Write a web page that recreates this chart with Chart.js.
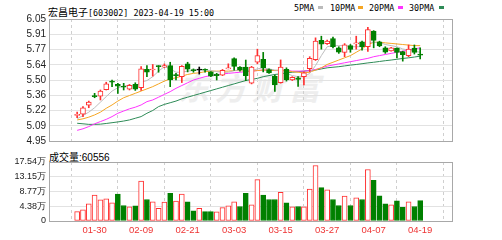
<!DOCTYPE html>
<html>
<head>
<meta charset="utf-8">
<script src="https://cdn.jsdelivr.net/npm/chart.js@4.4.0/dist/chart.umd.min.js"></script>
<style>
  body { margin: 0; background: #fff; width: 502px; height: 240px; overflow: hidden; position: relative; }
  .t { position: absolute; white-space: nowrap; color: #000; line-height: 1; }
  .mono { font-family: "DejaVu Sans Mono", "Liberation Mono", monospace; font-size: 8.4px; }
  .cjk { font-family: "Noto Sans CJK SC", sans-serif; font-size: 10px; }
  .dash { position: absolute; width: 5px; height: 3px; top: 6px; }
  canvas { position: absolute; left: 0; }
  #wm { position: absolute; left: 178px; top: 64px; font: italic bold 31px "Noto Sans CJK SC", sans-serif;
        color: #eeeeee; letter-spacing: 6px; }
</style>
</head>
<body>
<div id="wm">东方财富</div>
<div class="t" style="left:48px;top:3px;"><span class="cjk">宏昌电子</span><span class="mono">[603002] 2023-04-19 15:00</span></div>
<div class="t mono" style="left:294px;top:4px;">5PMA</div><div class="dash" style="left:318px;background:#bbbbbb;"></div>
<div class="t mono" style="left:330px;top:4px;">10PMA</div><div class="dash" style="left:358px;background:#f5a623;"></div>
<div class="t mono" style="left:369px;top:4px;">20PMA</div><div class="dash" style="left:398px;background:#ff33ff;"></div>
<div class="t mono" style="left:409px;top:4px;">30PMA</div><div class="dash" style="left:439px;background:#2e8b57;"></div>
<div class="t" style="left:49px;top:148px;"><span class="cjk">成交量</span><span style="font:10px 'Liberation Sans',Arial,sans-serif;">:60556</span></div>
<canvas id="k" width="502" height="150" style="top:0"></canvas>
<canvas id="v" width="502" height="90" style="top:150px"></canvas>
<script>
// trading days shown
const dates = ['01-18','01-19','01-20','01-30','01-31','02-01','02-02','02-03','02-06','02-07',
  '02-08','02-09','02-10','02-13','02-14','02-15','02-16','02-17','02-20','02-21',
  '02-22','02-23','02-24','02-27','02-28','03-01','03-02','03-03','03-06','03-07',
  '03-08','03-09','03-10','03-13','03-14','03-15','03-16','03-17','03-20','03-21',
  '03-22','03-23','03-24','03-27','03-28','03-29','03-30','03-31','04-03','04-04',
  '04-06','04-07','04-10','04-11','04-12','04-13','04-14','04-17','04-18','04-19'];

const opens = [5.18,5.193,5.272,5.36,5.354,5.412,5.49,5.46,5.44,5.418,
  5.46,5.43,5.596,5.59,5.625,5.617,5.63,5.545,5.53,5.646,
  5.59,5.59,5.592,5.573,5.553,5.544,5.60,5.693,5.617,5.617,
  5.471,5.661,5.687,5.594,5.535,5.477,5.597,5.50,5.52,5.529,
  5.602,5.684,5.857,5.828,5.874,5.79,5.749,5.81,5.825,5.845,
  5.80,5.94,5.845,5.79,5.763,5.787,5.757,5.72,5.787,5.73];
const closes = [5.19,5.25,5.30,5.35,5.40,5.465,5.48,5.445,5.435,5.453,
  5.418,5.60,5.57,5.597,5.62,5.63,5.50,5.54,5.623,5.597,
  5.585,5.59,5.588,5.535,5.538,5.588,5.605,5.623,5.59,5.538,
  5.617,5.72,5.611,5.564,5.456,5.617,5.50,5.523,5.506,5.564,
  5.696,5.851,5.822,5.85,5.80,5.75,5.816,5.775,5.83,5.80,
  5.955,5.857,5.807,5.75,5.79,5.749,5.728,5.778,5.749,5.725];
const highs = [5.21,5.26,5.31,5.38,5.41,5.48,5.50,5.47,5.47,5.46,
  5.475,5.62,5.63,5.64,5.63,5.645,5.66,5.56,5.63,5.66,
  5.60,5.617,5.60,5.575,5.56,5.595,5.646,5.70,5.62,5.68,
  5.623,5.778,5.749,5.60,5.544,5.681,5.61,5.53,5.53,5.573,
  5.71,5.88,5.895,5.86,5.886,5.80,5.828,5.82,5.895,5.85,
  5.974,5.945,5.85,5.80,5.795,5.79,5.76,5.816,5.816,5.79];
const lows = [5.16,5.17,5.25,5.34,5.32,5.41,5.44,5.38,5.41,5.41,
  5.406,5.406,5.53,5.535,5.57,5.61,5.44,5.50,5.477,5.573,
  5.57,5.553,5.57,5.53,5.50,5.54,5.60,5.588,5.58,5.494,
  5.465,5.646,5.573,5.56,5.398,5.471,5.49,5.495,5.441,5.456,
  5.573,5.676,5.778,5.82,5.79,5.74,5.71,5.75,5.778,5.77,
  5.757,5.79,5.80,5.74,5.76,5.70,5.67,5.71,5.734,5.69];

const ma5 = [5.15,5.18,5.21,5.25,5.30,5.35,5.40,5.43,5.445,5.455,
  5.44,5.48,5.495,5.53,5.58,5.62,5.60,5.57,5.57,5.58,
  5.585,5.59,5.59,5.585,5.575,5.57,5.57,5.585,5.59,5.59,
  5.585,5.60,5.61,5.60,5.59,5.585,5.56,5.54,5.53,5.53,
  5.56,5.63,5.72,5.80,5.81,5.81,5.81,5.80,5.80,5.80,
  5.84,5.84,5.84,5.82,5.81,5.80,5.78,5.77,5.76,5.75];
const ma10 = [5.14,5.15,5.165,5.185,5.21,5.245,5.275,5.31,5.34,5.36,
  5.38,5.40,5.42,5.44,5.465,5.49,5.51,5.52,5.535,5.55,
  5.56,5.565,5.575,5.58,5.58,5.58,5.58,5.585,5.585,5.58,
  5.58,5.585,5.59,5.59,5.585,5.59,5.585,5.575,5.57,5.565,
  5.57,5.59,5.61,5.64,5.66,5.68,5.70,5.72,5.75,5.78,
  5.82,5.84,5.84,5.835,5.83,5.825,5.82,5.815,5.81,5.81];
const ma20 = [5.046,5.06,5.08,5.105,5.125,5.145,5.17,5.20,5.22,5.24,
  5.255,5.275,5.305,5.32,5.345,5.37,5.395,5.425,5.45,5.475,
  5.50,5.515,5.53,5.54,5.548,5.555,5.56,5.565,5.57,5.575,
  5.58,5.585,5.59,5.59,5.585,5.585,5.585,5.58,5.58,5.58,
  5.585,5.595,5.61,5.625,5.635,5.645,5.655,5.665,5.675,5.685,
  5.695,5.71,5.72,5.73,5.74,5.75,5.76,5.77,5.78,5.79];
const ma30 = [5.11,5.105,5.10,5.10,5.102,5.108,5.115,5.122,5.13,5.14,
  5.155,5.17,5.20,5.225,5.26,5.28,5.295,5.31,5.33,5.345,
  5.36,5.375,5.39,5.405,5.42,5.435,5.45,5.465,5.48,5.495,
  5.505,5.515,5.53,5.54,5.55,5.555,5.565,5.57,5.575,5.58,
  5.585,5.59,5.60,5.61,5.615,5.62,5.627,5.634,5.64,5.647,
  5.654,5.66,5.667,5.674,5.68,5.687,5.694,5.70,5.707,5.715];

const volumes = [28000,33000,51000,77000,63000,66000,54000,80000,46000,42000,
  45000,119000,64000,57000,38000,56000,82000,59000,80000,57000,
  30000,38000,28000,28000,27000,40000,45000,57000,43000,82000,
  48000,123000,77000,64000,64000,85000,54000,42000,43000,42000,
  95000,165000,99000,93000,64000,46000,74000,46000,69000,64000,
  153000,121000,75000,51000,48000,60000,41000,57000,43000,60556];

const priceRange = [4.95, 6.05];
const priceTickLabels = ['4.95','5.09','5.22','5.36','5.50','5.64','5.77','5.91','6.05'];
const volMax = 175400;
const volTickLabels = ['0','4.38万','8.77万','13.15万','17.54万'];
const xTickDates = ['01-30','02-09','02-21','03-03','03-15','03-27','04-07','04-19'];

const RED = '#ff3030', GREEN = '#008000';
const idx = dates.map((d, i) => i);
const candleColor = i => closes[i] > opens[i] ? RED : (closes[i] < opens[i] ? GREEN : '#000');
const volUp = i => closes[i] >= (i ? closes[i - 1] : opens[i]);

const frame = {
  id: 'frame',
  afterDraw(c) {
    const a = c.chartArea, ctx = c.ctx;
    ctx.save();
    ctx.strokeStyle = '#a8a8a8';
    ctx.lineWidth = 1;
    ctx.strokeRect(Math.round(a.left) + 0.5, Math.round(a.top) + 0.5,
      Math.round(a.right - a.left) - 1, Math.round(a.bottom - a.top));
    ctx.restore();
  }
};

function xScale(showLabels) {
  return {
    type: 'linear', min: -0.5, max: 60.3,
    afterBuildTicks: s => { s.ticks = xTickDates.map(d => ({ value: dates.indexOf(d) })); },
    afterFit: s => { s.height = showLabels ? 19 : 0; },
    grid: { color: '#cfcfcf', drawTicks: false },
    border: { display: false, dash: [3, 3] },
    ticks: {
      display: showLabels, autoSkip: false, maxRotation: 0, padding: 4,
      color: '#ee3333', font: { family: 'Liberation Sans, Arial', size: 9.5 },
      callback: v => dates[v]
    }
  };
}

function evenTicks(lo, hi, n) {
  return Array.from({ length: n }, (_, k) => ({ value: lo + k * (hi - lo) / (n - 1) }));
}

const lineDs = (data, color) => ({
  type: 'line', data: idx.map(i => ({ x: i, y: data[i] })), borderColor: color,
  borderWidth: 1, pointRadius: 0, tension: 0, order: 5
});

new Chart(document.getElementById('k'), {
  type: 'bar',
  data: {
    datasets: [
      lineDs(ma5, '#bdbdbd'),
      lineDs(ma10, '#f5a623'),
      lineDs(ma20, '#ff33ff'),
      lineDs(ma30, '#2e8b57'),
      {
        data: idx.map(i => ({ x: i, y: [lows[i], highs[i]] })),
        backgroundColor: idx.map(candleColor),
        barThickness: 1, grouped: false, order: 3, minBarLength: 1
      },
      {
        data: idx.map(i => ({ x: i, y: [opens[i], closes[i]] })),
        backgroundColor: idx.map(i => closes[i] > opens[i] ? '#fff' : candleColor(i)),
        borderColor: idx.map(candleColor), borderWidth: 1, borderSkipped: false,
        barThickness: 5, grouped: false, order: 1, minBarLength: 1
      }
    ]
  },
  options: {
    responsive: false, animation: false, devicePixelRatio: 1,
    layout: { padding: { top: 19, right: 49, bottom: 6, left: 0 } },
    plugins: { legend: { display: false }, tooltip: { enabled: false } },
    scales: {
      x: xScale(false),
      y: {
        min: priceRange[0], max: priceRange[1],
        afterBuildTicks: s => { s.ticks = evenTicks(priceRange[0], priceRange[1], priceTickLabels.length); },
        afterFit: s => { s.width = 49; },
        grid: { color: '#e2e2e2', drawTicks: false },
        border: { display: false },
        ticks: {
          padding: 3, color: '#222', font: { family: 'Liberation Sans, Arial', size: 10 },
          callback: (v, k) => priceTickLabels[k]
        }
      }
    }
  },
  plugins: [frame]
});

new Chart(document.getElementById('v'), {
  type: 'bar',
  data: {
    datasets: [{
      data: idx.map(i => ({ x: i, y: volumes[i] })),
      backgroundColor: idx.map(i => volUp(i) ? '#fff' : GREEN),
      borderColor: idx.map(i => volUp(i) ? RED : GREEN),
      borderWidth: 1, borderSkipped: false, barThickness: 5
    }]
  },
  options: {
    responsive: false, animation: false, devicePixelRatio: 1,
    layout: { padding: { top: 12, right: 49, bottom: 0, left: 0 } },
    plugins: { legend: { display: false }, tooltip: { enabled: false } },
    scales: {
      x: xScale(true),
      y: {
        min: 0, max: volMax,
        afterBuildTicks: s => { s.ticks = evenTicks(0, volMax, volTickLabels.length); },
        afterFit: s => { s.width = 49; },
        grid: { color: '#e2e2e2', drawTicks: false },
        border: { display: false },
        ticks: {
          padding: 3, color: '#222', font: { family: 'Liberation Sans, Arial', size: 9 },
          callback: (v, k) => volTickLabels[k]
        }
      }
    }
  },
  plugins: [frame]
});
</script>
</body>
</html>
